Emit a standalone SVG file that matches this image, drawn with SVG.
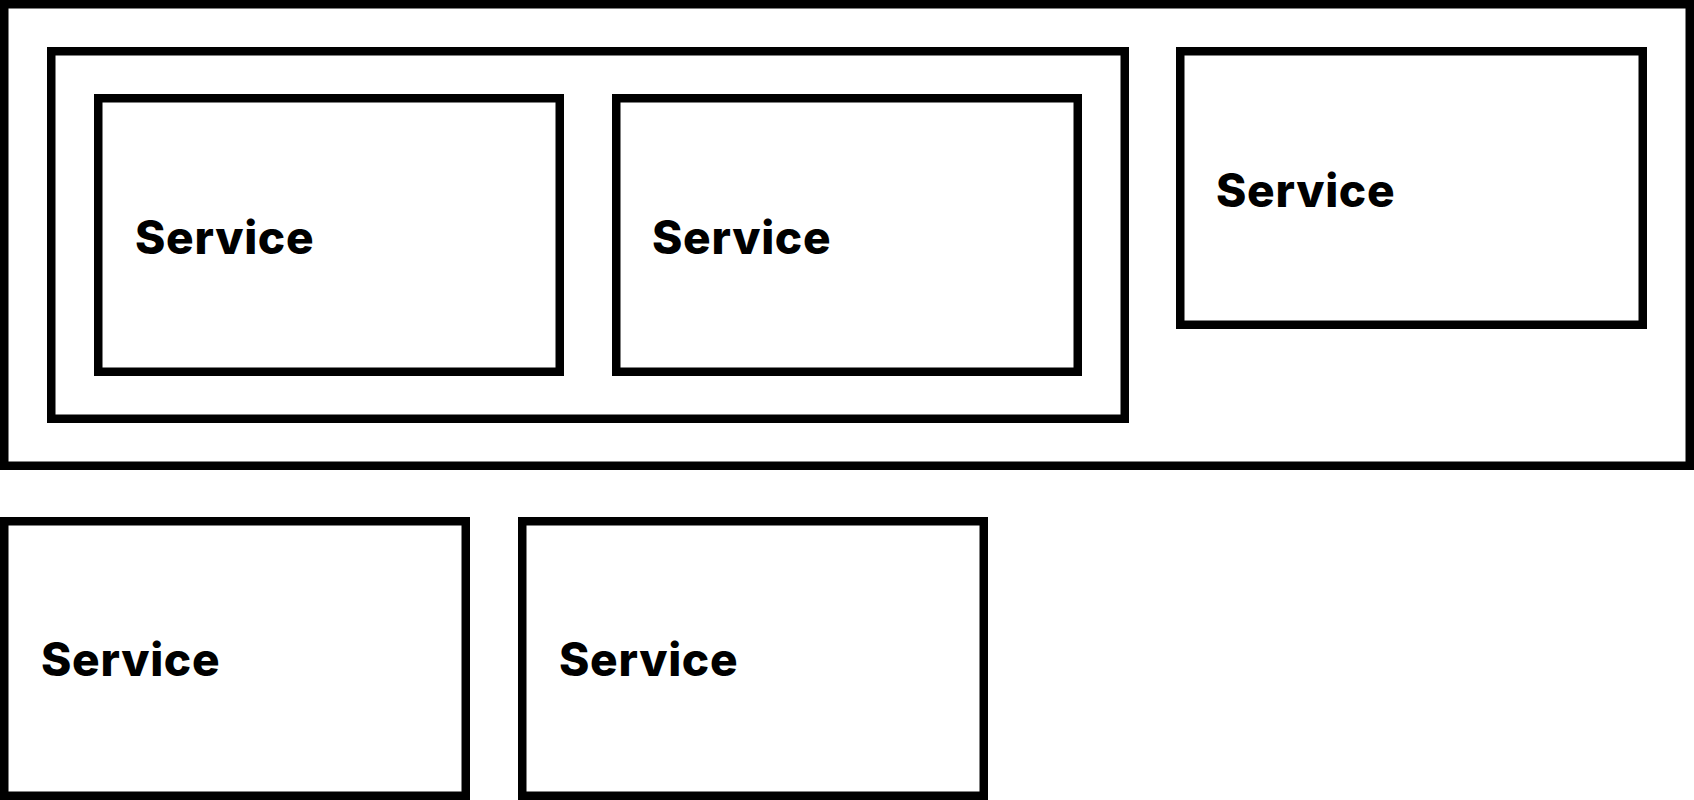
<svg xmlns="http://www.w3.org/2000/svg" width="1694" height="800" viewBox="0 0 1694 800">
<style>
.box{fill:#fff;stroke:#000;stroke-width:8.5}
.frame{fill:none;stroke:#000;stroke-width:8.5}
.lbl{font-family:Inter,"Liberation Sans",sans-serif;font-weight:800;font-size:46px;letter-spacing:0.7px;fill:#000}
</style>
<rect x="0" y="0" width="1694" height="800" fill="#fff"/>
<g id="outer"><rect class="frame" x="4.25" y="4.25" width="1685.5" height="461.5"/></g>
<g id="group"><rect class="frame" x="51.25" y="51.25" width="1073.5" height="367.5"/></g>
<g id="service1"><rect class="box" x="98.25" y="98.25" width="461.5" height="273.5"/><text class="lbl" x="135" y="254">Service</text></g>
<g id="service2"><rect class="box" x="616.25" y="98.25" width="461.5" height="273.5"/><text class="lbl" x="652" y="254">Service</text></g>
<g id="service3"><rect class="box" x="1180.25" y="51.25" width="462.5" height="273.5"/><text class="lbl" x="1216" y="207">Service</text></g>
<g id="service4"><rect class="box" x="4.25" y="521.25" width="461.5" height="274.5"/><text class="lbl" x="41" y="676">Service</text></g>
<g id="service5"><rect class="box" x="522.25" y="521.25" width="461.5" height="274.5"/><text class="lbl" x="559" y="676">Service</text></g>
<g id="connectors"></g>
</svg>
